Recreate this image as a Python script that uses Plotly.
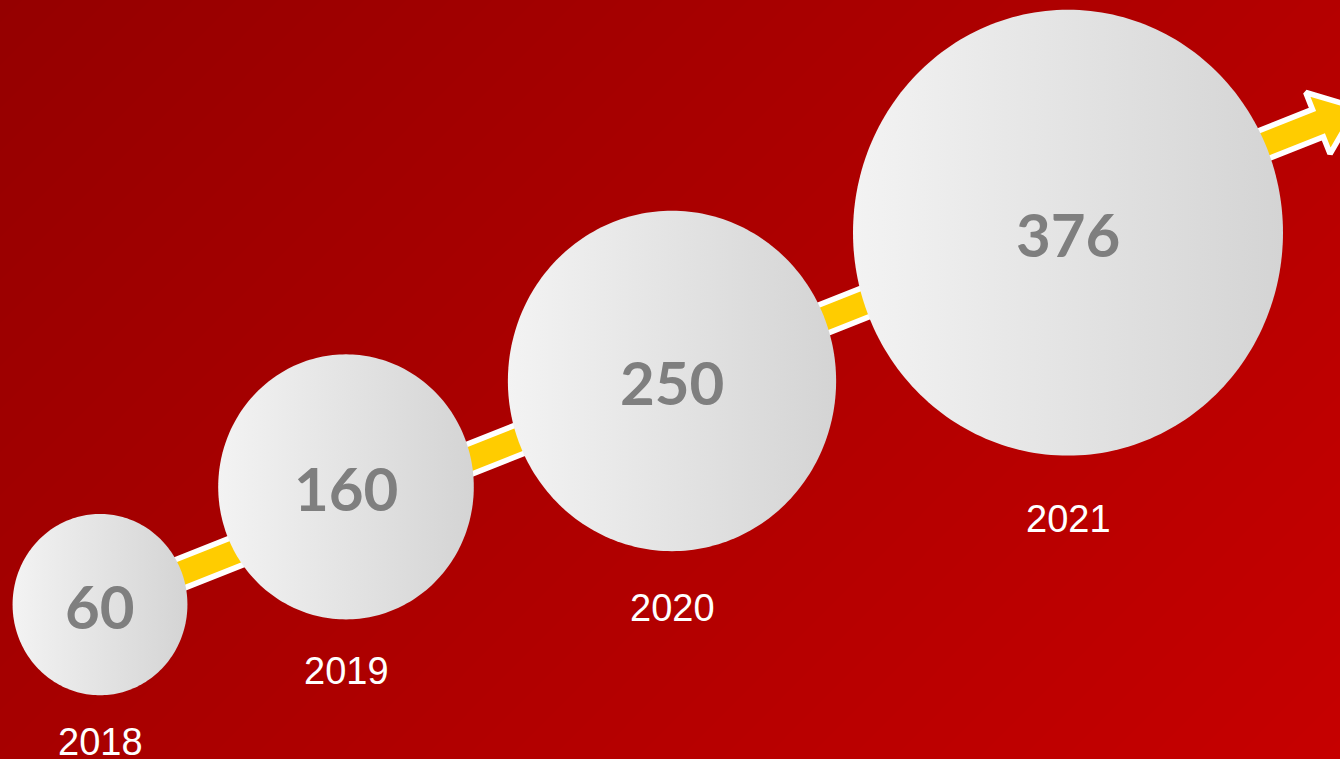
import numpy as np
import plotly.graph_objects as go

# ---- data -------------------------------------------------------------
years = ["2018", "2019", "2020", "2021"]
values = [60, 160, 250, 376]

# ---- layout constants -------------------------------------------------
W, H = 1340, 759
x_slots = [100, 346, 672, 1068]          # horizontal slot of each bubble (px)
Y_LO, Y_HI = -71.2, 573.7                # value axis range
PX_PER_UNIT = H / (Y_HI - Y_LO)

def bubble_radius_px(v):
    return 63.2 + 0.4037 * v

ASPECT = 1.037                           # bubbles are slightly taller than wide

fig = go.Figure()

# background: diagonal red gradient (bilinear 2x2 heatmap)
fig.add_trace(go.Heatmap(
    x=[0, W], y=[0, H],
    z=[[0.36, 1.0], [0.0, 0.64]],
    zmin=0, zmax=1, zsmooth="best",
    colorscale=[[0, "#950000"], [1, "#c60000"]],
    showscale=False, hoverinfo="skip",
    xaxis="x", yaxis="y",
))

# yellow growth arrow with white outline (pixel geometry, y measured from top)
start = np.array([100.0, 605.5])
u = np.array([0.9297, -0.3682])
n = np.array([0.3682, 0.9297])
shaft_hw, head_hw = 14.8, 33.0
base = start + 1310 * u
tip = start + 1352 * u
pts = [start - shaft_hw * n, base - shaft_hw * n, base - head_hw * n, tip,
       base + head_hw * n, base + shaft_hw * n, start + shaft_hw * n,
       start - shaft_hw * n]
fig.add_trace(go.Scatter(
    x=[p[0] for p in pts], y=[H - p[1] for p in pts],
    mode="lines", fill="toself",
    fillcolor="#ffcc00", line=dict(color="white", width=5.6),
    hoverinfo="skip", xaxis="x", yaxis="y",
))

# bubbles: radius grows with the value, light horizontal grey gradient
theta = np.linspace(0, 2 * np.pi, 241)
for xs, v in zip(x_slots, values):
    rx = bubble_radius_px(v)
    ry = rx * ASPECT / PX_PER_UNIT
    fig.add_trace(go.Scatter(
        x=xs + rx * np.cos(theta), y=v + ry * np.sin(theta),
        mode="none", fill="toself",
        fillgradient=dict(type="horizontal",
                          colorscale=[[0, "#f3f3f3"], [1, "#d4d4d4"]]),
        hoverinfo="skip", xaxis="x2", yaxis="y2",
    ))

# value labels inside bubbles
for xs, v in zip(x_slots, values):
    fig.add_annotation(
        x=xs, y=v, xref="x2", yref="y2", text=str(v), showarrow=False,
        yshift=-1, yanchor="middle",
        font=dict(family="Lato", size=60, color="#7f7f7f", weight="bold"),
    )

# year labels under bubbles
for xs, v, yr in zip(x_slots, values, years):
    ry_px = bubble_radius_px(v) * ASPECT
    gap = 47 + 0.12 * (ry_px - 90.6)
    fig.add_annotation(
        x=xs, y=v, xref="x2", yref="y2", text=yr, showarrow=False,
        yshift=-(ry_px + gap), yanchor="middle",
        font=dict(family="Liberation Sans, Arial", size=38, color="white"),
    )

fig.update_layout(
    width=W, height=H, margin=dict(l=0, r=0, t=0, b=0),
    showlegend=False,
    paper_bgcolor="#a00000", plot_bgcolor="rgba(0,0,0,0)",
    xaxis=dict(range=[0, W], visible=False, fixedrange=True),
    yaxis=dict(range=[0, H], visible=False, fixedrange=True),
    xaxis2=dict(range=[0, W], visible=False, overlaying="x", fixedrange=True),
    yaxis2=dict(range=[Y_LO, Y_HI], visible=False, overlaying="y", fixedrange=True),
)

fig.write_html("out.html", config={"displayModeBar": False})
